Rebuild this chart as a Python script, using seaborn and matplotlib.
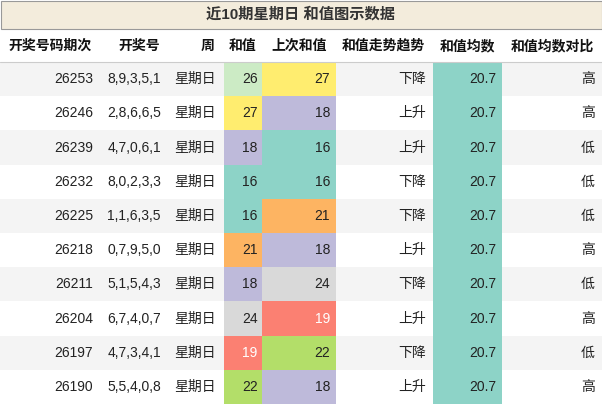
import matplotlib
matplotlib.use("Agg")
import matplotlib.pyplot as plt
import seaborn as sns
from matplotlib.patches import Rectangle

sns.set_theme(style="white")
plt.rcParams['font.family'] = ['Liberation Sans', 'Noto Sans CJK SC', 'DejaVu Sans']

title = "近10期星期日 和值图示数据"
headers = ["开奖号码期次", "开奖号", "周", "和值", "上次和值", "和值走势趋势", "和值均数", "和值均数对比"]
periods = ["26253", "26246", "26239", "26232", "26225", "26218", "26211", "26204", "26197", "26190"]
numbers = ["8,9,3,5,1", "2,8,6,6,5", "4,7,0,6,1", "8,0,2,3,3", "1,1,6,3,5", "0,7,9,5,0", "5,1,5,4,3", "6,7,4,0,7", "4,7,3,4,1", "5,5,4,0,8"]
weekday = ["星期日"] * 10
sums = [26, 27, 18, 16, 16, 21, 18, 24, 19, 22]
prev_sums = [27, 18, 16, 16, 21, 18, 24, 19, 22, 18]
trend = ["下降", "上升", "上升", "下降", "下降", "上升", "下降", "上升", "下降", "上升"]
mean_val = [20.7] * 10
compare = ["高", "高", "低", "低", "低", "高", "低", "高", "低", "高"]

color_map = {26: "#ccebc5", 27: "#ffed6f", 18: "#bebada", 16: "#8dd3c7", 21: "#fdb462",
             24: "#d9d9d9", 19: "#fb8072", 22: "#b3de69"}
mean_color = "#8dd3c7"

W, H = 602, 404
fig = plt.figure(figsize=(W/100, H/100), dpi=100)
ax = fig.add_axes([0, 0, 1, 1])
ax.set_xlim(0, W); ax.set_ylim(H, 0); ax.axis("off")

ax.add_patch(Rectangle((0.5, 0.5), W-1, 28, facecolor="#f3ecdc", edgecolor="#999999", lw=0.8))
ax.text(W/2, 14.5, title, ha="center", va="center", fontsize=11, fontweight="bold", color="#333333")

hdr_x = [50, 139, 208, 243, 299, 383, 467, 552]
for x, h in zip(hdr_x, headers):
    ax.text(x, 46, h, ha="center", va="center", fontsize=10, fontweight="bold", color="#111111")
ax.plot([0, W], [62, 62], color="#cccccc", lw=0.8)

row_h = 34.2
y0 = 62
for i in range(10):
    top = y0 + i*row_h
    cy = top + row_h/2
    bg = "#f4f4f4" if i % 2 == 0 else "#ffffff"
    ax.add_patch(Rectangle((0, top), W, row_h, facecolor=bg, edgecolor="none"))
    ax.add_patch(Rectangle((224, top), 38, row_h, facecolor=color_map[sums[i]], edgecolor="none"))
    ax.add_patch(Rectangle((262, top), 74, row_h, facecolor=color_map[prev_sums[i]], edgecolor="none"))
    ax.add_patch(Rectangle((433, top), 69, row_h, facecolor=mean_color, edgecolor="none"))
    fs = 10
    ax.text(93, cy, periods[i], ha="right", va="center", fontsize=fs, color="#222222")
    ax.text(161, cy, numbers[i], ha="right", va="center", fontsize=fs, color="#222222")
    ax.text(216, cy, weekday[i], ha="right", va="center", fontsize=fs, color="#222222")
    ax.text(250, cy, str(sums[i]), ha="center", va="center", fontsize=fs,
            color="white" if sums[i] == 19 else "#222222")
    ax.text(330, cy, str(prev_sums[i]), ha="right", va="center", fontsize=fs,
            color="white" if prev_sums[i] == 19 else "#222222")
    ax.text(426, cy, trend[i], ha="right", va="center", fontsize=fs, color="#222222")
    ax.text(496, cy, f"{mean_val[i]:.1f}", ha="right", va="center", fontsize=fs, color="#222222")
    ax.text(595, cy, compare[i], ha="right", va="center", fontsize=fs, color="#222222")

fig.savefig("out.png", dpi=100)
